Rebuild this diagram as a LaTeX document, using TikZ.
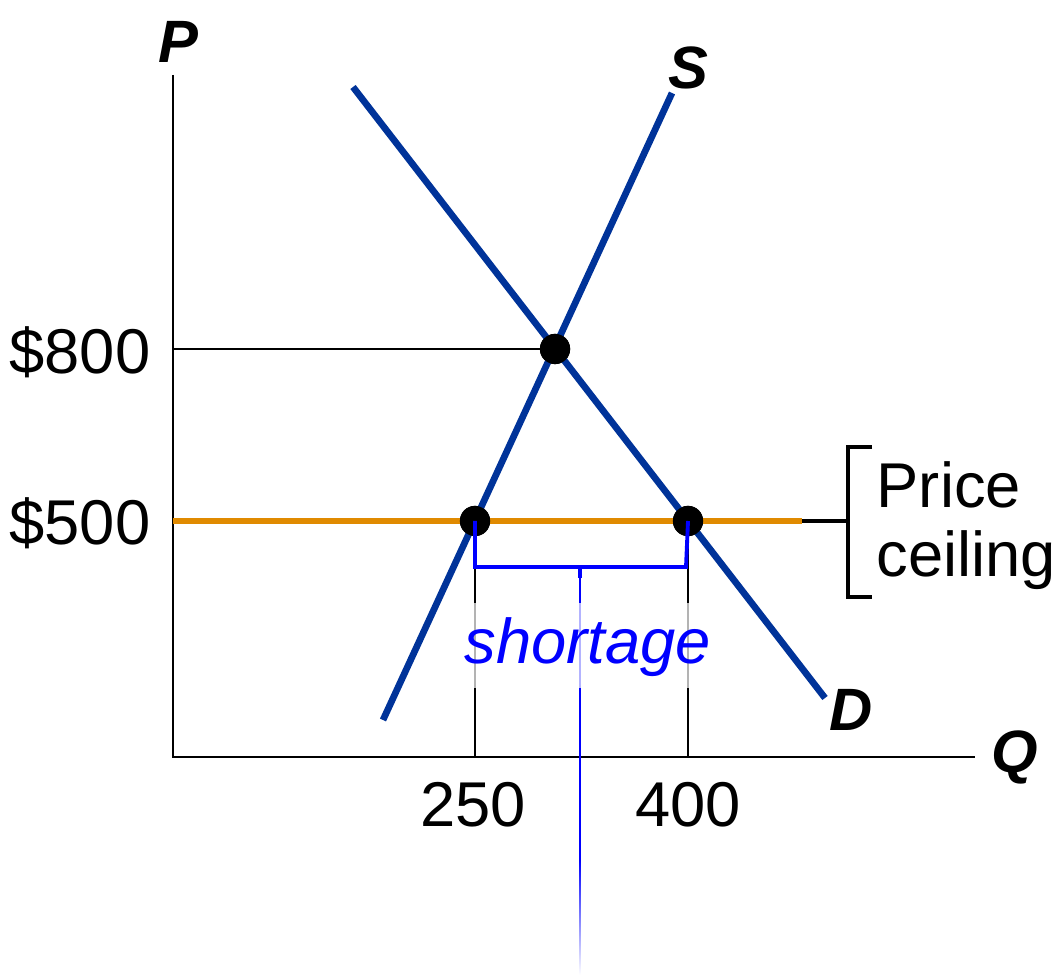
\documentclass[tikz,border=0pt]{standalone}
\usepackage{fontspec}
\setmainfont{Liberation Sans}
\begin{document}
\begin{tikzpicture}[x=0.01cm,y=-0.01cm,
  curve/.style={line width=1.9pt,draw={rgb,255:red,0;green,51;blue,153}},
  axis/.style={line width=0.7pt,black},
  guide/.style={line width=0.45pt,black},
  dot/.style={circle,fill=black,inner sep=0pt,minimum size=8.6pt},
  lbl/.style={font=\fontsize{18}{20}\selectfont,inner sep=0pt},
  axlbl/.style={font=\fontsize{17}{19}\selectfont\bfseries\itshape,inner sep=0pt},
  bluebr/.style={line width=1.1pt,draw={rgb,255:red,0;green,0;blue,255}}]
\definecolor{ceil}{RGB}{224,138,0}
\definecolor{brblue}{RGB}{0,0,255}
\useasboundingbox (0,0) rectangle (1058,977);
% axes
\coordinate (O) at (173,757);
\coordinate (Ptop) at (173,75);
\coordinate (Qend) at (975,757);
\draw[axis] (Ptop) -- (O) -- (Qend);
\node[axlbl] (Plab) at (178,42) {P};
\node[axlbl] (Qlab) at (1015,757) {Q};
% key points
\node[dot] (E) at (555,349) {};
\node[dot] (A) at (475,521) {};
\node[dot] (B) at (688,521) {};
\coordinate (P800) at (173,349);
\coordinate (P500) at (173,521);
\coordinate (Q250) at (475,757);
\coordinate (Q400) at (688,757);
% guides
\draw[guide] (P800) -- (E.center);
\draw[guide] (A.center) -- (Q250);
\draw[guide] (B.center) -- (Q400);
% price ceiling
\coordinate (Cend) at (802,521);
\coordinate (Br) at (848,521);
\draw[line width=0.9pt,black] (B.center) -- (Br);
\draw[line width=1.6pt,ceil] (P500) -- (Cend);
% curves
\coordinate (S0) at (383,720);
\coordinate (S1) at (672,93);
\coordinate (D0) at (353,87);
\coordinate (D1) at (825,698);
\draw[curve] (S0) -- (S1);
\draw[curve] (D0) -- (D1);
\node[dot] at (E) {};
\node[dot] at (A) {};
\node[dot] at (B) {};
\node[axlbl] (Slab) at (688,68) {S};
\node[axlbl] (Dlab) at (851,710) {D};
% bracket for price ceiling
\coordinate (BrT) at (848,447);
\coordinate (BrB) at (848,597);
\draw[line width=0.9pt] (872,447) -- (BrT) -- (BrB) -- (872,597);
\node[lbl,anchor=west] (pr) at (876,485) {Price};
\node[lbl,anchor=west] (ce) at (876,560) {ceiling};
% shortage bracket
\coordinate (L1) at (475,567);
\coordinate (R1) at (686,567);
\coordinate (M1) at (580,567);
\coordinate (M2) at (580,578);
\draw[bluebr] (A.center) -- (L1) -- (R1) -- (B.center);
\draw[bluebr] (M1) -- (M2);
\draw[line width=0.6pt,brblue] (M2) -- (580,860);
\shade[top color=brblue,bottom color=white] (579.1,860) rectangle (580.9,975);
% values
\node[lbl] (v800) at (80,352) {\$800};
\node[lbl] (v500) at (80,523) {\$500};
\node[lbl] (q250) at (473,805) {250};
\node[lbl] (q400) at (688,805) {400};
% shortage label
\fill[white,opacity=0.7] (462,603) rectangle (714,688);
\node[lbl,text=brblue,font=\fontsize{18}{20}\selectfont\itshape] (sh) at (588,647) {shortage};
\end{tikzpicture}
\end{document}
